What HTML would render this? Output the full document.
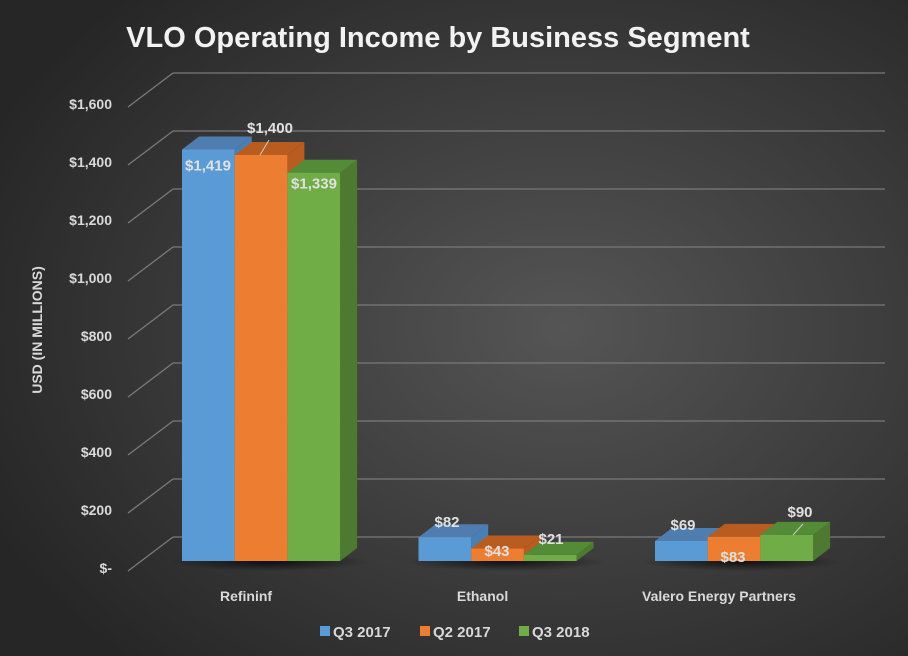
<!DOCTYPE html>
<html><head><meta charset="utf-8"><style>
html,body{margin:0;padding:0;width:908px;height:656px;overflow:hidden;background:#333}
svg{display:block;font-family:"Liberation Sans",sans-serif}
</style></head><body>
<svg id="c" width="908" height="656" viewBox="0 0 908 656">
<defs>
<radialGradient id="bg" cx="0.62" cy="0.5" r="0.7">
<stop offset="0" stop-color="#555"/><stop offset="1" stop-color="#262626"/>
</radialGradient>
<radialGradient id="sh" cx="0.5" cy="0.5" r="0.5">
<stop offset="0" stop-color="#000" stop-opacity="0.7"/><stop offset="1" stop-color="#000" stop-opacity="0"/>
</radialGradient>
</defs>
<rect width="908" height="656" fill="url(#bg)"/>
<text x="438" y="47" text-anchor="middle" font-size="29" font-weight="bold" fill="#f2f2f2">VLO Operating Income by Business Segment</text>
<text transform="translate(42,330) rotate(-90)" text-anchor="middle" font-size="14" font-weight="bold" fill="#d9d9d9">USD (IN MILLIONS)</text>
<g id="grid"></g><g id="bars"></g><g id="labels"></g>
<g font-size="15" font-weight="bold" fill="#d9d9d9">
<rect x="320" y="626" width="10" height="10" fill="#5b9bd5"/>
<text x="333" y="637">Q3 2017</text>
<rect x="420" y="626" width="10" height="10" fill="#ed7d31"/>
<text x="433" y="637">Q2 2017</text>
<rect x="519" y="626" width="10" height="10" fill="#70ad47"/>
<text x="532" y="637">Q3 2018</text>
</g>
</svg>
<script>
const categories=["Refininf","Ethanol","Valero Energy Partners"];
const seriesNames=["Q3 2017","Q2 2017","Q3 2018"];
const q3_2017=[1419,82,69];
const q2_2017=[1400,43,83];
const q3_2018=[1339,21,90];
const valueLabels=[["$1,419","$82","$69"],["$1,400","$43","$83"],["$1,339","$21","$90"]];
const tickValues=[0,200,400,600,800,1000,1200,1400,1600];
const tickLabels=["$-","$200","$400","$600","$800","$1,000","$1,200","$1,400","$1,600"];

const NS="http://www.w3.org/2000/svg";
function el(t,a,p){const e=document.createElementNS(NS,t);for(const k in a)e.setAttribute(k,a[k]);p.appendChild(e);return e;}
const K=0.29;
const yBack=v=>537-K*v;
const yFront=v=>561-K*v;
const xBar=(c,s)=>182+c*236.5+s*52.7;
const BW=52.7,DX=17,DY=-13;
const grid=document.getElementById('grid'),bars=document.getElementById('bars'),labels=document.getElementById('labels');
tickValues.forEach((v,i)=>{
  const y=yBack(v);
  let l=el('line',{x1:173,y1:y,x2:885,y2:y,stroke:'#7a7a7a','stroke-width':1.3},grid);
  
  
  l=el('line',{x1:173,y1:y,x2:128,y2:y+34,stroke:'#7a7a7a','stroke-width':1.3},grid);
  
  
  const t=el('text',{x:112,y:y+36,'text-anchor':'end','font-size':14,'font-weight':'bold',fill:'#d9d9d9'},grid);
  t.textContent=tickLabels[i];
  
  
});
const series=[q3_2017,q2_2017,q3_2018];
const cols=[["#5b9bd5","#4a7fb5","#6fa8de"],["#ed7d31","#b85c20","#ed7d31"],["#70ad47","#4d7a30","#70ad47"]];
categories.forEach((cat,c)=>{
  const sh=el('ellipse',{cx:xBar(c,1.5)+8,cy:562,rx:100,ry:9,fill:'url(#sh)'},bars);
  
  
  const t=el('text',{x:xBar(c,1.5)-15,y:601,'text-anchor':'middle','font-size':14,'font-weight':'bold',fill:'#d9d9d9'},labels);
  t.textContent=cat;
  
  
});
categories.forEach((cat,c)=>{
  series.forEach((arr,s)=>{
    const v=arr[c],x=xBar(c,s),y=yFront(v),b=yFront(0);
    const g=el('g',{},bars);
    
    
    el('polygon',{points:`${x+BW},${y} ${x+BW+DX},${y+DY} ${x+BW+DX},${b+DY} ${x+BW},${b}`,fill:cols[s][1]},g);
    el('polygon',{points:`${x},${y} ${x+DX},${y+DY} ${x+BW+DX},${y+DY} ${x+BW},${y}`,fill:s==0?'#4f7db0':(s==1?'#b85c20':'#538b36')},g);
    el('rect',{x:x,y:y,width:BW,height:b-y,fill:cols[s][0]},g);
  });
});
const labelPos=[[[208,170],[447,527],[683,530]],[[270,133],[497,556],[733,562]],[[314,166],[551,544],[800,517]]];
series.forEach((arr,s)=>{arr.forEach((v,c)=>{
  const p=labelPos[s][c];
  const yy=(c==0)?yFront(v)+ (s==1?-22:(s==0?21:16)) : p[1];
  const t=el('text',{x:p[0],y:yy,'text-anchor':'middle','font-size':15,'font-weight':'bold',fill:'#e0e0e0'},labels);
  t.textContent=valueLabels[s][c];
  
  
});});
let ld=el('line',{x1:269,y1:140,x2:260,y2:155,stroke:'#ccc','stroke-width':1},labels);


ld=el('line',{x1:803,y1:524,x2:793,y2:535,stroke:'#ccc','stroke-width':1},labels);


</script>
</body></html>
